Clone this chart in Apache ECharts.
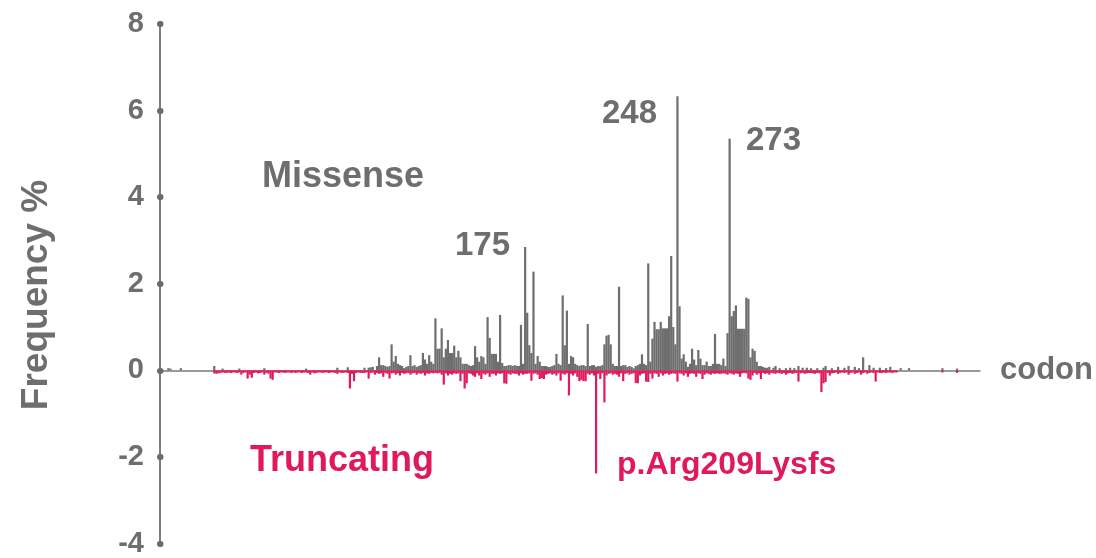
<!DOCTYPE html>
<html>
<head>
<meta charset="utf-8">
<script src="https://cdn.jsdelivr.net/npm/echarts@6/dist/echarts.min.js"></script>
<style>
html,body{margin:0;padding:0;background:#fff;}
#chart{width:1096px;height:558px;}
</style>
</head>
<body>
<div id="chart"></div>
<script>
const yTicks = [-4, -2, 0, 2, 4, 6, 8];
const codonRange = [0, 393];

// Missense: codons with visible bars
const missenseCodon = [4,5,10,26,30,38,50,70,85,90,98,101,105,107,111,112,113,115,117,120,122,126,127,129,132,133,134,135,137,138,139,140,141,143,144,145,146,147,151,152,154,155,157,158,159,160,161,163,164,165,168,170,173,175,176,177,178,179,181,182,184,187,190,193,194,195,197,198,199,200,202,203,205,207,208,213,214,215,216,218,220,222,224,227,231,233,234,236,237,238,239,240,241,242,243,244,245,246,247,248,249,250,251,252,253,255,256,258,259,261,262,264,265,266,267,268,270,271,272,273,274,275,276,277,278,279,280,281,282,283,284,285,286,287,290,295,300,306,310,315,319,325,330,333,337,340,345,350,359,375,382];
const missenseFreq  = [0.05,0.04,0.05,0.1,0.04,0.04,0.05,0.04,0.06,0.07,0.06,0.07,0.3,0.12,0.6,0.2,0.33,0.12,0.05,0.35,0.12,0.4,0.25,0.35,1.2,0.5,0.5,0.97,0.5,0.7,0.4,0.4,0.57,0.45,0.3,0.15,0.15,0.15,0.56,0.3,0.33,0.3,1.23,0.75,0.38,0.38,0.38,1.28,0.17,0.1,0.12,0.12,1.05,2.85,1.33,0.58,0.4,2.28,0.33,0.2,0.1,0.08,0.38,1.73,0.58,1.38,0.33,0.3,0.15,0.12,0.12,0.12,1.07,0.12,0.12,0.6,0.8,0.82,0.6,0.1,1.93,0.12,0.08,0.05,0.37,0.12,2.47,0.73,1.12,0.95,0.95,1.12,0.97,0.97,0.97,1.25,2.64,1.0,0.6,6.33,1.48,0.27,0.37,0.2,0.08,0.5,0.25,0.47,0.27,0.12,0.2,0.1,0.15,0.84,0.15,0.15,0.27,0.1,0.86,5.35,1.25,1.37,1.5,0.96,0.96,0.96,0.96,1.68,1.65,0.3,0.5,0.45,0.2,0.1,0.06,0.1,0.05,0.1,0.06,0.05,0.1,0.08,0.1,0.08,0.3,0.12,0.06,0.08,0.05,0.05,0.04];
// Missense: low background bars along the baseline
const missenseLowCodon = [100,102,104,106,108,109,110,114,116,118,119,121,123,124,125,128,130,131,136,142,148,149,150,153,156,162,166,167,169,171,172,174,180,183,185,186,188,189,191,192,196,201,204,206,209,210,211,212,217,219,221,223,225,226,228,229,230,232,235,254,257,260,263,269,288,289,291,292,294,297,302,304,308,312,318,322,328,335,342,348,355];
const missenseLowFreq  = [0.06,0.08,0.1,0.12,0.1,0.08,0.1,0.15,0.1,0.08,0.1,0.1,0.08,0.1,0.12,0.15,0.2,0.15,0.3,0.3,0.12,0.1,0.12,0.2,0.15,0.2,0.1,0.12,0.1,0.1,0.1,0.15,0.15,0.1,0.1,0.08,0.1,0.12,0.15,0.12,0.15,0.1,0.1,0.1,0.08,0.1,0.1,0.12,0.15,0.1,0.1,0.12,0.1,0.08,0.1,0.12,0.15,0.15,0.2,0.15,0.12,0.12,0.1,0.12,0.1,0.08,0.06,0.08,0.06,0.05,0.06,0.05,0.06,0.05,0.06,0.05,0.06,0.05,0.06,0.05,0.05];

// Truncating: codons with visible bars
const truncCodon = [26,27,28,29,32,35,39,42,43,44,47,50,52,53,54,56,59,62,66,69,72,74,77,80,83,85,88,91,93,96,98,100,103,105,107,109,110,113,115,117,120,123,125,127,129,135,136,138,140,144,146,147,150,151,153,154,156,158,160,161,165,166,168,170,172,174,175,178,181,182,183,184,185,188,190,192,194,196,198,200,201,202,203,204,206,208,209,211,213,214,217,219,220,222,225,228,229,230,233,234,236,239,241,244,248,251,253,257,260,261,264,268,272,275,278,282,283,284,286,288,290,292,295,298,300,303,306,309,311,314,317,318,319,321,325,330,333,336,339,343,346,350,353,375,382];
const truncFreq  = [-0.07,-0.08,-0.07,-0.06,-0.06,-0.05,-0.1,-0.19,-0.1,-0.17,-0.07,-0.1,-0.08,-0.19,-0.22,-0.05,-0.05,-0.05,-0.05,-0.05,-0.1,-0.07,-0.05,-0.05,-0.05,-0.08,-0.06,-0.42,-0.25,-0.06,-0.06,-0.19,-0.1,-0.08,-0.15,-0.08,-0.19,-0.1,-0.12,-0.08,-0.1,-0.1,-0.08,-0.12,-0.08,-0.1,-0.33,-0.12,-0.1,-0.25,-0.42,-0.3,-0.12,-0.15,-0.12,-0.2,-0.1,-0.15,-0.08,-0.12,-0.3,-0.31,-0.1,-0.08,-0.12,-0.1,-0.08,-0.24,-0.1,-0.2,-0.18,-0.2,-0.1,-0.1,-0.12,-0.24,-0.1,-0.58,-0.12,-0.15,-0.25,-0.22,-0.25,-0.25,-0.1,-0.12,-2.38,-0.2,-0.74,-0.12,-0.1,-0.1,-0.15,-0.25,-0.1,-0.29,-0.3,-0.12,-0.26,-0.27,-0.19,-0.15,-0.12,-0.1,-0.26,-0.12,-0.15,-0.15,-0.2,-0.1,-0.1,-0.08,-0.1,-0.1,-0.15,-0.19,-0.22,-0.12,-0.1,-0.2,-0.08,-0.1,-0.08,-0.08,-0.1,-0.08,-0.26,-0.08,-0.06,-0.08,-0.5,-0.3,-0.27,-0.12,-0.08,-0.1,-0.08,-0.1,-0.08,-0.26,-0.06,-0.05,-0.05,-0.05,-0.06];
// Truncating: low background bars along the baseline
const truncLowCodon = [30,31,33,34,36,37,38,40,41,45,46,48,49,51,55,57,58,60,61,63,64,65,67,68,70,71,73,75,76,78,79,81,82,84,86,87,89,90,92,94,95,97,99,101,102,104,106,108,111,112,114,116,118,119,121,122,124,126,128,130,131,132,133,134,137,139,141,142,143,145,148,149,152,155,157,159,162,163,164,167,169,171,173,176,177,179,180,186,187,189,191,193,195,197,199,205,207,210,212,215,216,218,221,223,224,226,227,231,232,235,237,238,240,242,243,245,246,247,249,250,252,254,255,256,258,259,262,263,265,266,267,269,270,271,273,274,276,277,279,280,281,285,287,289,291,293,294,296,297,299,301,302,304,305,307,308,310,312,313,315,316,320,322,323,324,326,327,328,329,331,332,334,335,337,338,340,341,342,344,345,347,348,349,351,352];
const truncLowFreq  = [-0.05,-0.06,-0.05,-0.06,-0.05,-0.06,-0.05,-0.06,-0.05,-0.06,-0.05,-0.06,-0.05,-0.06,-0.05,-0.06,-0.05,-0.06,-0.05,-0.06,-0.05,-0.06,-0.05,-0.06,-0.05,-0.06,-0.05,-0.06,-0.05,-0.06,-0.05,-0.06,-0.05,-0.06,-0.05,-0.06,-0.05,-0.06,-0.08,-0.06,-0.05,-0.06,-0.05,-0.06,-0.05,-0.06,-0.07,-0.06,-0.07,-0.06,-0.07,-0.06,-0.07,-0.06,-0.07,-0.06,-0.07,-0.06,-0.07,-0.06,-0.07,-0.06,-0.07,-0.06,-0.07,-0.08,-0.07,-0.08,-0.07,-0.08,-0.07,-0.08,-0.07,-0.08,-0.07,-0.08,-0.07,-0.08,-0.07,-0.08,-0.07,-0.08,-0.07,-0.08,-0.07,-0.08,-0.07,-0.08,-0.07,-0.08,-0.07,-0.08,-0.07,-0.08,-0.07,-0.08,-0.07,-0.08,-0.07,-0.08,-0.07,-0.08,-0.07,-0.08,-0.07,-0.08,-0.07,-0.08,-0.07,-0.08,-0.07,-0.08,-0.07,-0.08,-0.07,-0.08,-0.07,-0.08,-0.07,-0.08,-0.07,-0.08,-0.07,-0.08,-0.07,-0.08,-0.07,-0.08,-0.07,-0.08,-0.07,-0.08,-0.07,-0.08,-0.07,-0.08,-0.07,-0.08,-0.07,-0.06,-0.07,-0.06,-0.07,-0.06,-0.07,-0.06,-0.07,-0.06,-0.07,-0.06,-0.07,-0.06,-0.07,-0.06,-0.07,-0.06,-0.07,-0.06,-0.07,-0.06,-0.07,-0.06,-0.07,-0.06,-0.05,-0.06,-0.05,-0.06,-0.05,-0.06,-0.05,-0.06,-0.05,-0.06,-0.05,-0.06,-0.05,-0.06,-0.05,-0.06,-0.05,-0.06,-0.05,-0.06,-0.05,-0.06];

const GRAY = '#6e6e6e';
const PINK = '#e0195f';
const FONT = '"Liberation Sans", Arial, Helvetica, sans-serif';

function pairs(codons, freqs) { return codons.map((c, i) => [c, freqs[i]]); }

const chart = echarts.init(document.getElementById('chart'));
chart.setOption({
  animation: false,
  backgroundColor: '#fff',
  grid: { left: 160, right: 116, top: 24, bottom: 7.5, containLabel: false },
  xAxis: {
    type: 'value',
    min: codonRange[0], max: codonRange[1],
    axisLine: { show: true, onZero: true, lineStyle: { color: '#7a7a7a', width: 1.5 } },
    axisTick: { show: false },
    axisLabel: { show: false },
    splitLine: { show: false },
    name: 'codon',
    nameLocation: 'end',
    nameGap: 20,
    nameTextStyle: { color: GRAY, fontSize: 31, fontWeight: 'bold', fontFamily: FONT, verticalAlign: 'middle', align: 'left', padding: [6, 0, 0, 0] }
  },
  yAxis: {
    type: 'value',
    min: yTicks[0], max: yTicks[yTicks.length - 1], interval: 2,
    axisLine: { show: true, onZero: false, lineStyle: { color: '#7d7d7d', width: 2 } },
    axisTick: { show: true, inside: true, length: 0.5, lineStyle: { color: '#6a6a6a', width: 6, cap: 'round' } },
    axisLabel: { color: GRAY, fontSize: 29, fontWeight: 'bold', fontFamily: FONT, margin: 16, padding: [6, 0, 0, 0] },
    splitLine: { show: false }
  },
  series: [
    {
      name: 'Missense', type: 'bar', barWidth: 2.2, barGap: '-100%',
      itemStyle: { color: GRAY },
      data: pairs(missenseLowCodon, missenseLowFreq).concat(pairs(missenseCodon, missenseFreq))
    },
    {
      name: 'Truncating', type: 'bar', barWidth: 2.2, barGap: '-100%',
      itemStyle: { color: PINK },
      data: pairs(truncLowCodon, truncLowFreq).concat(pairs(truncCodon, truncFreq))
    }
  ],
  graphic: [
    { type: 'text', x: 37, y: 295, rotation: Math.PI / 2,
      style: { text: 'Frequency %', fill: GRAY, font: 'bold 37px ' + FONT, align: 'center', verticalAlign: 'middle' } },
    { type: 'text', x: 262, y: 177,
      style: { text: 'Missense', fill: GRAY, font: 'bold 36px ' + FONT, align: 'left', verticalAlign: 'middle' } },
    { type: 'text', x: 455, y: 246,
      style: { text: '175', fill: GRAY, font: 'bold 33px ' + FONT, align: 'left', verticalAlign: 'middle' } },
    { type: 'text', x: 602, y: 114,
      style: { text: '248', fill: GRAY, font: 'bold 33px ' + FONT, align: 'left', verticalAlign: 'middle' } },
    { type: 'text', x: 746, y: 141,
      style: { text: '273', fill: GRAY, font: 'bold 33px ' + FONT, align: 'left', verticalAlign: 'middle' } },
    { type: 'text', x: 250, y: 461,
      style: { text: 'Truncating', fill: PINK, font: 'bold 36px ' + FONT, align: 'left', verticalAlign: 'middle' } },
    { type: 'text', x: 617, y: 465,
      style: { text: 'p.Arg209Lysfs', fill: PINK, font: 'bold 32px ' + FONT, align: 'left', verticalAlign: 'middle' } }
  ]
});
</script>
</body>
</html>
